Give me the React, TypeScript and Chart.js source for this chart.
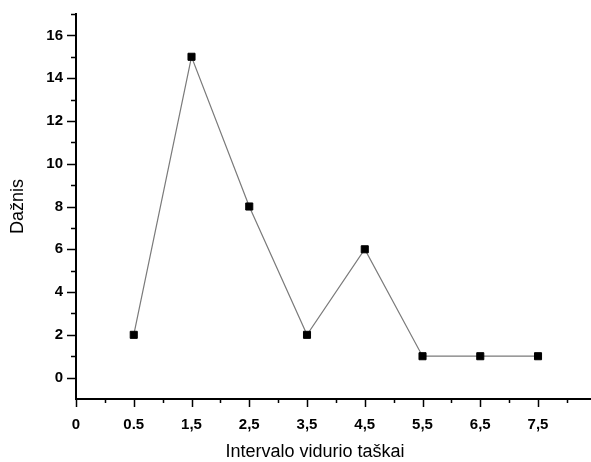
import React, { useEffect, useRef } from "react";
import { Chart, registerables } from "chart.js";

Chart.register(...registerables);

// Categories (interval midpoints) shown as tick labels, placed at positions 0..8
const xTickLabels = ["0", "0.5", "1,5", "2,5", "3,5", "4,5", "5,5", "6,5", "7,5"];
const categories = ["0.5", "1,5", "2,5", "3,5", "4,5", "5,5", "6,5", "7,5"];
const frequencies = [2, 15, 8, 2, 6, 1, 1, 1];
const yTickValues = [0, 2, 4, 6, 8, 10, 12, 14, 16];
const xTitle = "Intervalo vidurio taškai";
const yTitle = "Dažnis";

const FONT = "'Liberation Sans', Arial, sans-serif";

const axisDecor = {
  id: "axisDecor",
  afterDraw(chart: any) {
    const ctx = chart.ctx;
    const xs = chart.scales.x;
    const ys = chart.scales.y;
    const area = chart.chartArea;
    ctx.save();
    ctx.strokeStyle = "#000";
    ctx.lineWidth = 1.5;
    ctx.beginPath();
    // x ticks: major at integers, minor at halves
    for (let v = 0; v <= 8.5 + 1e-9; v += 0.5) {
      const px = Math.round(xs.getPixelForValue(v)) + 0.5;
      const major = Math.abs(v - Math.round(v)) < 1e-6;
      const len = major ? 8 : 4;
      ctx.moveTo(px, area.bottom);
      ctx.lineTo(px, area.bottom + len);
    }
    // y ticks: major at even, minor at odd
    for (let v = 0; v <= 17; v += 1) {
      const py = Math.round(ys.getPixelForValue(v)) + 0.5;
      const major = v % 2 === 0;
      const len = major ? 9 : 5;
      ctx.moveTo(area.left, py);
      ctx.lineTo(area.left - len, py);
    }
    ctx.stroke();

    // titles
    ctx.fillStyle = "#000";
    ctx.font = `18px ${FONT}`;
    ctx.textAlign = "center";
    ctx.textBaseline = "middle";
    ctx.fillText(xTitle, 315, 452);
    ctx.translate(18.5, (area.top + area.bottom) / 2);
    ctx.rotate(-Math.PI / 2);
    ctx.fillText(yTitle, 0, 0);
    ctx.restore();
  },
};

export default function App() {
  const ref = useRef<HTMLCanvasElement | null>(null);

  useEffect(() => {
    if (!ref.current) return;
    const chart = new Chart(ref.current, {
      type: "line",
      data: {
        datasets: [
          {
            label: "Dažnis",
            data: categories.map((c, i) => ({ x: xTickLabels.indexOf(c), y: frequencies[i] })),
            borderColor: "#7a7a7a",
            borderWidth: 1.2,
            pointStyle: "rect",
            pointRadius: 5,
            pointBackgroundColor: "#000",
            pointBorderColor: "#000",
            pointBorderWidth: 1,
            tension: 0,
          },
        ],
      },
      options: {
        responsive: false,
        animation: false,
        layout: { autoPadding: false, padding: { top: 14, right: 1, left: 0, bottom: 0 } },
        plugins: {
          legend: { display: false },
          tooltip: { enabled: false },
        },
        scales: {
          x: {
            type: "linear",
            min: 0,
            max: 8.9,
            afterBuildTicks: (scale: any) => {
              scale.ticks = xTickLabels.map((_, i) => ({ value: i }));
            },
            afterFit: (scale: any) => {
              scale.height = 63;
              scale.paddingLeft = 0;
              scale.paddingRight = 0;
            },
            grid: { display: false, drawTicks: false, tickLength: 0 },
            border: { display: true, color: "#000", width: 2 },
            ticks: {
              padding: 17,
              color: "#000",
              font: { family: FONT, size: 15, weight: "bold" },
              maxRotation: 0,
              autoSkip: false,
              callback: (value: any) => xTickLabels[Math.round(Number(value))] ?? "",
            },
          },
          y: {
            type: "linear",
            min: -1,
            max: 17,
            afterBuildTicks: (scale: any) => {
              scale.ticks = yTickValues.map((v) => ({ value: v }));
            },
            afterFit: (scale: any) => {
              scale.width = 76;
              scale.paddingTop = 0;
              scale.paddingBottom = 0;
            },
            grid: { display: false, drawTicks: false, tickLength: 0 },
            border: { display: true, color: "#000", width: 2 },
            ticks: {
              padding: 13,
              color: "#000",
              font: { family: FONT, size: 15, weight: "bold" },
              autoSkip: false,
              callback: (value: any) => String(value),
            },
          },
        },
      },
      plugins: [axisDecor],
    });
    return () => chart.destroy();
  }, []);

  return (
    <div style={{ position: "absolute", left: 0, top: 0, width: 591, height: 462, background: "#fff" }}>
      <canvas ref={ref} width={591} height={462} style={{ display: "block" }} />
    </div>
  );
}
